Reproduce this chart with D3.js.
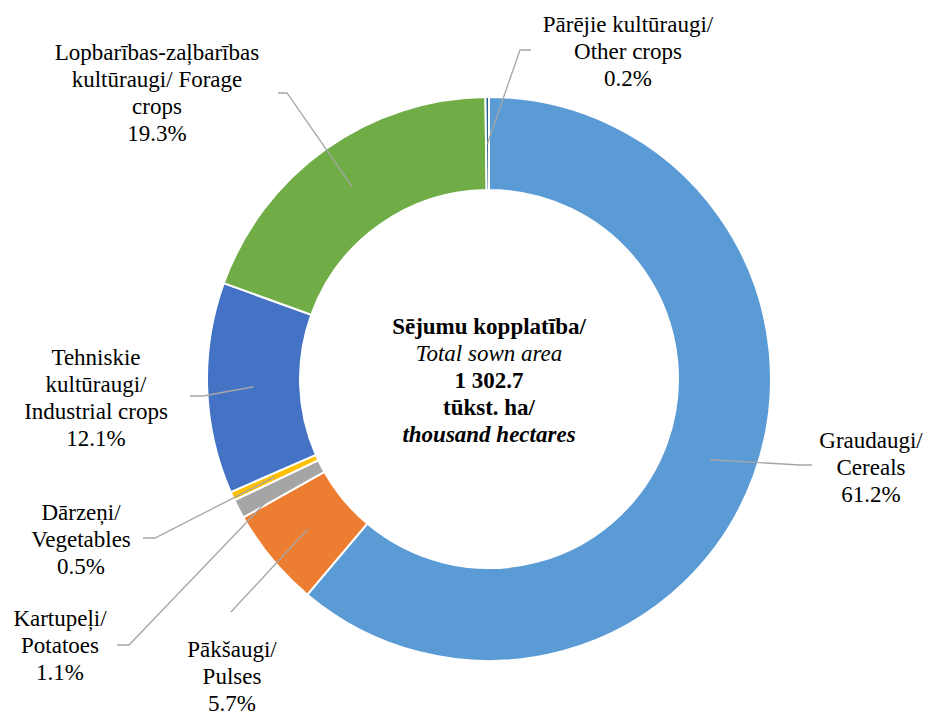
<!DOCTYPE html>
<html>
<head>
<meta charset="utf-8">
<script src="https://cdn.jsdelivr.net/npm/d3@7"></script>
<style>
  body { margin: 0; background: #fff; }
  text, tspan { font-family: "Liberation Serif", "DejaVu Serif", serif !important; }
</style>
</head>
<body>
<svg id="chart" width="928" height="713"></svg>
<script>
// data
var categories = ["Cereals", "Pulses", "Potatoes", "Vegetables", "Industrial", "Forage", "Other"]
var shares = [61.2, 5.7, 1.1, 0.5, 12.1, 19.3, 0.2]
var labelLines = [
    ["Graudaugi/", "Cereals", "61.2%"],
    ["Pākšaugi/", "Pulses", "5.7%"],
    ["Kartupeļi/", "Potatoes", "1.1%"],
    ["Dārzeņi/", "Vegetables", "0.5%"],
    ["Tehniskie", "kultūraugi/", "Industrial crops", "12.1%"],
    ["Lopbarības-zaļbarības", "kultūraugi/ Forage", "crops", "19.3%"],
    ["Pārējie kultūraugi/", "Other crops", "0.2%"]
]
var centerLines = ["Sējumu kopplatība/", "Total sown area", "1 302.7", "tūkst. ha/", "thousand hectares"]

// layout (label text centre, elbow, line end)
var colors = ["#5B9BD5", "#ED7D31", "#A5A5A5", "#FFC000", "#4472C4", "#70AD47", "#255E91"]
var labelLayout = [
    {tx: 871, ty: 440, elbow: [800, 465], end: [812, 465]},
    {tx: 232, ty: 649, elbow: null, end: [231, 612]},
    {tx: 60, ty: 618, elbow: [129, 645], end: [117, 645]},
    {tx: 81, ty: 512, elbow: [155, 538], end: [143, 538]},
    {tx: 96, ty: 357, elbow: [203, 396], end: [190, 396]},
    {tx: 157, ty: 52, elbow: [287, 93], end: [278, 93]},
    {tx: 628, ty: 24, elbow: [520, 50], end: [531, 50]}
]
var centerStyle = [
    {weight: "bold", style: "normal"},
    {weight: "normal", style: "italic"},
    {weight: "bold", style: "normal"},
    {weight: "bold", style: "normal"},
    {weight: "bold", style: "italic"}
]

var cx = 489, cy = 379
var outerR = 282, innerR = 189
var fontSize = 23, lineH = 27

var svg = d3.select("#chart")

var pie = d3.pie().sort(null).value(function(d){ return d })
var arcs = pie(shares)

var arc = d3.arc().innerRadius(innerR).outerRadius(outerR)
var midArc = d3.arc().innerRadius((innerR + outerR) / 2).outerRadius((innerR + outerR) / 2)

var g = svg.append("g").attr("transform", "translate(" + cx + "," + cy + ")")

g.selectAll("path.slice")
    .data(arcs)
    .enter().append("path")
    .attr("class", "slice")
    .attr("d", arc)
    .attr("fill", function(d, i){ return colors[i] })
    .attr("stroke", "#fff")
    .attr("stroke-width", 2)

// leader lines
var line = d3.line()
svg.selectAll("path.leader")
    .data(arcs)
    .enter().append("path")
    .attr("class", "leader")
    .attr("d", function(d, i){
        var c = midArc.centroid(d)
        var pts = [[c[0] + cx, c[1] + cy]]
        var l = labelLayout[i]
        if (l.elbow) pts.push(l.elbow)
        pts.push(l.end)
        return line(pts)
    })
    .attr("fill", "none")
    .attr("stroke", "#A6A6A6")
    .attr("stroke-width", 1.3)

// labels
var labels = svg.selectAll("text.lbl")
    .data(labelLines)
    .enter().append("text")
    .attr("class", "lbl")
    .attr("text-anchor", "middle")
    .style("font-size", fontSize + "px")
    .attr("fill", "#000")

labels.each(function(lines, i){
    var t = d3.select(this)
    var l = labelLayout[i]
    lines.forEach(function(s, k){
        t.append("tspan")
            .attr("x", l.tx)
            .attr("y", l.ty + k * lineH)
            .attr("dy", "0.35em")
            .text(s)
    })
})

// centre text
var ct = svg.append("text")
    .attr("text-anchor", "middle")
    .style("font-size", fontSize + "px")
    .attr("fill", "#000")
centerLines.forEach(function(s, k){
    ct.append("tspan")
        .attr("x", cx)
        .attr("y", 326 + k * lineH)
        .attr("dy", "0.35em")
        .style("font-weight", centerStyle[k].weight)
        .style("font-style", centerStyle[k].style)
        .text(s)
})
</script>
</body>
</html>
